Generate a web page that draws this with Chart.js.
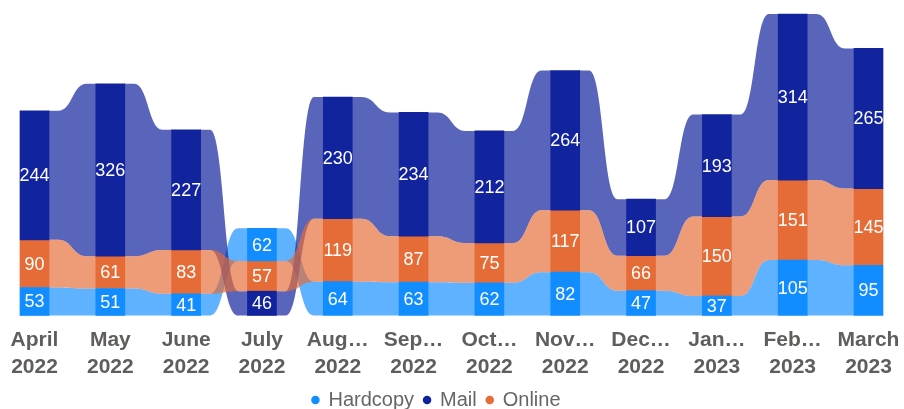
<!DOCTYPE html>
<html>
<head>
<meta charset="utf-8">
<script src="https://cdn.jsdelivr.net/npm/chart.js@4.4.1/dist/chart.umd.min.js"></script>
<style>
  html, body { margin: 0; padding: 0; background: #fff; }
  #wrap { width: 904px; height: 409px; position: relative; }
</style>
</head>
<body>
<div id="wrap"><canvas id="ribbonChart"></canvas></div>
<script>
// ── Data ──
const monthLabels = [
  ['April', '2022'], ['May', '2022'], ['June', '2022'], ['July', '2022'],
  ['Aug…', '2022'], ['Sep…', '2022'], ['Oct…', '2022'], ['Nov…', '2022'],
  ['Dec…', '2022'], ['Jan…', '2023'], ['Feb…', '2023'], ['March', '2023']
];
const seriesNames = ['Hardcopy', 'Mail', 'Online'];
const hardcopy = [53, 51, 41, 62, 64, 63, 62, 82, 47, 37, 105, 95];
const mail     = [244, 326, 227, 46, 230, 234, 212, 264, 107, 193, 314, 265];
const online   = [90, 61, 83, 57, 119, 87, 75, 117, 66, 150, 151, 145];
const yMax = 570;

const barColors    = ['#118DFF', '#12239E', '#E66C37'];
const ribbonColors = ['rgba(17,141,255,0.68)', 'rgba(18,35,158,0.70)', 'rgba(230,108,55,0.68)'];
const BAR_W = 29;
const FONT = "'Liberation Sans', Arial, sans-serif";

// ribbon chart: in each month the smallest value sits at the bottom
const seriesValues = [hardcopy, mail, online];
const ranges = seriesValues.map(() => []);
monthLabels.forEach((_, j) => {
  const order = [0, 1, 2].sort((a, b) => seriesValues[a][j] - seriesValues[b][j]);
  let base = 0;
  order.forEach(s => {
    ranges[s][j] = [base, base + seriesValues[s][j]];
    base += seriesValues[s][j];
  });
});

// ── Ribbons between the columns ──
const ribbonPlugin = {
  id: 'ribbons',
  beforeDatasetsDraw(chart) {
    const { ctx, scales: { x, y } } = chart;
    ctx.save();
    ranges.forEach((r, s) => {
      ctx.fillStyle = ribbonColors[s];
      for (let j = 0; j < r.length - 1; j++) {
        const x1 = x.getPixelForValue(j) + BAR_W / 2;
        const x2 = x.getPixelForValue(j + 1) - BAR_W / 2;
        const mid = (x1 + x2) / 2;
        const w = (x2 - x1) * 0.3;
        const t1 = y.getPixelForValue(r[j][1]), b1 = y.getPixelForValue(r[j][0]);
        const t2 = y.getPixelForValue(r[j + 1][1]), b2 = y.getPixelForValue(r[j + 1][0]);
        ctx.beginPath();
        ctx.moveTo(x1 - 0.5, t1);
        ctx.lineTo(mid - w, t1);
        ctx.bezierCurveTo(mid, t1, mid, t2, mid + w, t2);
        ctx.lineTo(x2 + 0.5, t2);
        ctx.lineTo(x2 + 0.5, b2);
        ctx.lineTo(mid + w, b2);
        ctx.bezierCurveTo(mid, b2, mid, b1, mid - w, b1);
        ctx.lineTo(x1 - 0.5, b1);
        ctx.closePath();
        ctx.fill();
      }
    });
    ctx.restore();
  }
};

// ── Value labels inside the bars ──
const valueLabelPlugin = {
  id: 'valueLabels',
  afterDatasetsDraw(chart) {
    const { ctx } = chart;
    ctx.save();
    ctx.fillStyle = '#fff';
    ctx.font = '18px ' + FONT;
    ctx.textAlign = 'center';
    ctx.textBaseline = 'middle';
    chart.data.datasets.forEach((ds, i) => {
      chart.getDatasetMeta(i).data.forEach((bar, j) => {
        ctx.fillText(seriesValues[i][j], bar.x, (bar.y + bar.base) / 2 + 1);
      });
    });
    ctx.restore();
  }
};

// legend sits a little left of centre in the original
const legendShift = {
  id: 'legendShift',
  afterLayout(chart) {
    chart.legend.left -= 15;
    chart.legend.right -= 15;
  }
};

new Chart(document.getElementById('ribbonChart'), {
  type: 'bar',
  data: {
    labels: monthLabels,
    datasets: seriesNames.map((name, s) => ({
      label: name,
      data: ranges[s],
      backgroundColor: barColors[s],
      borderWidth: 0,
      borderSkipped: false,
      barThickness: BAR_W,
      grouped: false,
      clip: false,
    }))
  },
  options: {
    responsive: true,
    maintainAspectRatio: false,
    animation: false,
    layout: { padding: { top: 14, left: 34.5, right: 35.5, bottom: -11 } },
    plugins: {
      legend: {
        position: 'bottom',
        labels: {
          usePointStyle: true,
          pointStyle: 'circle',
          boxWidth: 6,
          boxHeight: 6,
          padding: 10,
          color: '#666666',
          font: { size: 20, family: FONT }
        }
      },
      tooltip: { enabled: false }
    },
    scales: {
      x: {
        offset: false,
        grid: { display: false, drawTicks: false },
        border: { display: false },
        afterFit(scale) {
          scale.paddingLeft = 0;
          scale.paddingRight = 0;
          scale.height = 64.5;
        },
        ticks: {
          autoSkip: false,
          maxRotation: 0,
          padding: 12,
          color: '#605E5C',
          font: { size: 21, weight: 'bold', family: FONT, lineHeight: 1.25 }
        }
      },
      y: {
        display: false,
        min: 0,
        max: yMax
      }
    }
  },
  plugins: [ribbonPlugin, valueLabelPlugin, legendShift]
});
</script>
</body>
</html>
